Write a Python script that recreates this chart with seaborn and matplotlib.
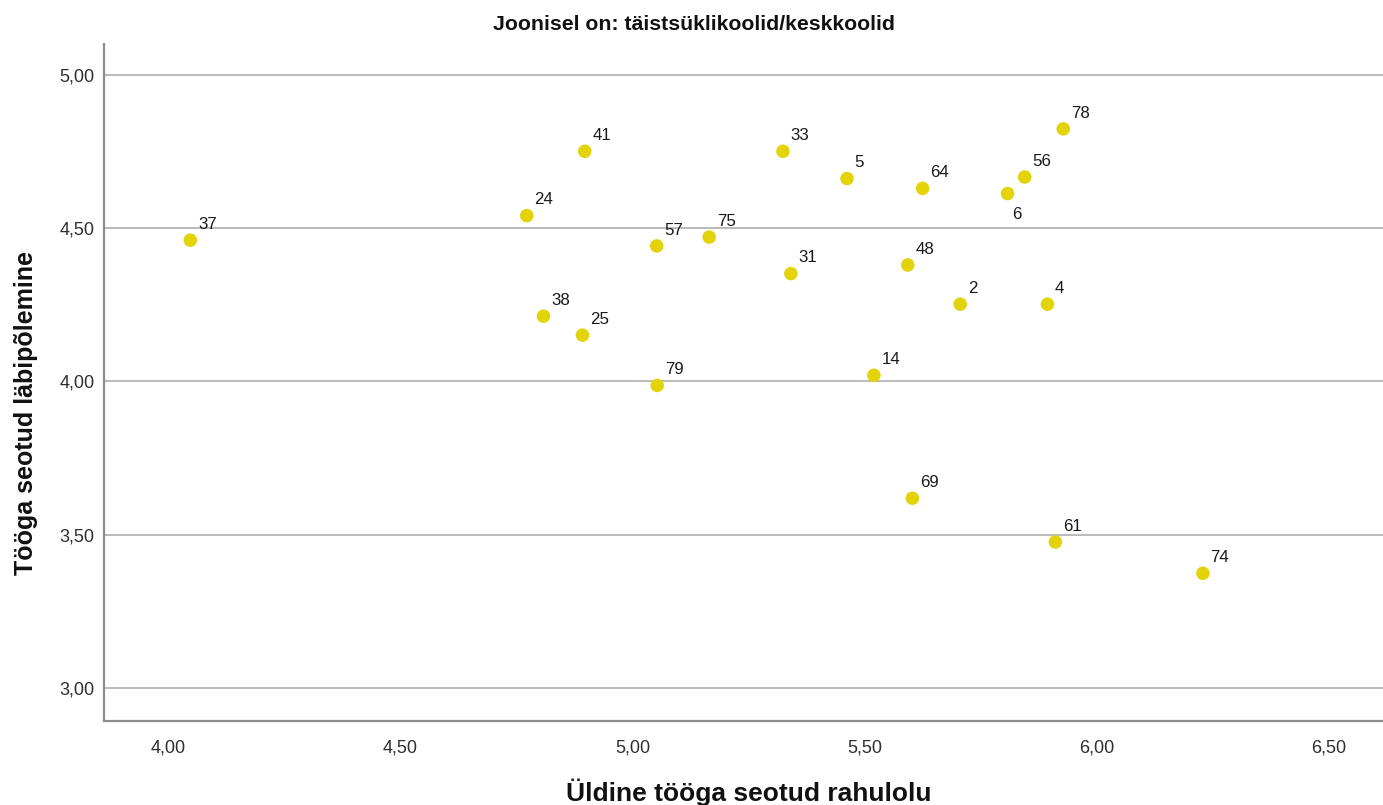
import matplotlib
matplotlib.use("Agg")
import matplotlib.pyplot as plt
import seaborn as sns
import pandas as pd
from matplotlib.ticker import FuncFormatter

# ---- data ----
school_ids = ["37", "41", "24", "57", "75", "38", "25", "79", "33", "5", "64",
              "6", "56", "78", "31", "48", "2", "4", "14", "69", "61", "74"]
satisfaction = [4.047, 4.897, 4.772, 5.052, 5.165, 4.808, 4.892, 5.053, 5.324,
                5.462, 5.625, 5.808, 5.845, 5.928, 5.341, 5.593, 5.706, 5.894,
                5.520, 5.603, 5.911, 6.229]
burnout = [4.461, 4.751, 4.541, 4.442, 4.471, 4.213, 4.151, 3.987, 4.751,
           4.662, 4.630, 4.613, 4.667, 4.824, 4.352, 4.380, 4.252, 4.252,
           4.020, 3.619, 3.476, 3.374]
x_ticks = [4.0, 4.5, 5.0, 5.5, 6.0, 6.5]
y_ticks = [3.0, 3.5, 4.0, 4.5, 5.0]
title = "Joonisel on: täistsüklikoolid/keskkoolid"
x_label = "Üldine tööga seotud rahulolu"
y_label = "Tööga seotud läbipõlemine"
below_labels = ["6"]

df = pd.DataFrame({"id": school_ids, "x": satisfaction, "y": burnout})

sns.set_theme(style="white")
plt.rcParams["font.family"] = ["Liberation Sans", "DejaVu Sans"]

fig = plt.figure(figsize=(13.83, 8.05), dpi=100)
ax = fig.add_axes([104 / 1383, 1 - 721 / 805, 1 - 104 / 1383, (721 - 44) / 805])

for yt in y_ticks:
    ax.axhline(yt, color="#b4b4b4", lw=1.3, zorder=0)

sns.scatterplot(data=df, x="x", y="y", ax=ax, color="#e3d30a", s=95,
                edgecolor="none", linewidth=0, zorder=3, legend=False)

for _, r in df.iterrows():
    if r["id"] in below_labels:
        off = (3, -18)
    else:
        off = (5.5, 8.2)
    ax.annotate(r["id"], (r["x"], r["y"]), xytext=off, textcoords="offset points",
                ha="left", va="baseline", fontsize=12.2, color="#1a1a1a", zorder=4)

ax.set_xlim(3.861, 6.617)
ax.set_ylim(2.892, 5.101)
ax.set_xticks(x_ticks)
ax.set_yticks(y_ticks)
fmt = FuncFormatter(lambda v, p: f"{v:.2f}".replace(".", ","))
ax.xaxis.set_major_formatter(fmt)
ax.yaxis.set_major_formatter(fmt)
ax.tick_params(axis="both", length=0, labelsize=13, colors="#2e2e2e", pad=7)
ax.tick_params(axis="x", pad=13)

for s in ["top", "right"]:
    ax.spines[s].set_visible(False)
for s in ["left", "bottom"]:
    ax.spines[s].set_color("#8c8c8c")
    ax.spines[s].set_linewidth(1.6)

ax.set_xlabel(x_label, fontsize=19, fontweight="bold", color="#111111")
ax.set_ylabel(y_label, fontsize=18, fontweight="bold", color="#111111")
ax.xaxis.set_label_coords((749 - 104) / 1279, -(779 - 721) / 677)
ax.yaxis.set_label_coords(-(104 - 38) / 1279, (721 - 413) / 677)
fig.text(0.5 * (487 + 900) / 1383, 1 - 25 / 805, title, ha="center", va="center",
         fontsize=15.3, fontweight="bold", color="#111111")

fig.savefig("out.png", dpi=100)
